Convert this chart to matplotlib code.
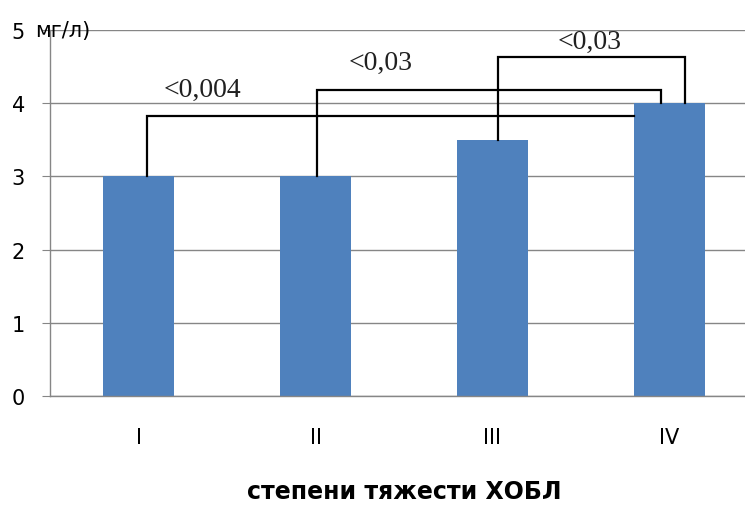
import matplotlib
matplotlib.use("Agg")
import matplotlib.pyplot as plt

# data
categories = ["I", "II", "III", "IV"]
values = [3.0, 3.0, 3.5, 4.0]
y_ticks = [0, 1, 2, 3, 4, 5]

# significance brackets: (x points, y points) in data units, label and its place
bracket_x = [[0.05, 0.05, 2.8],
             [1.01, 1.01, 2.95, 2.95],
             [2.03, 2.03, 3.09, 3.09]]
bracket_y = [[3.0, 3.83, 3.83],
             [3.0, 4.18, 4.18, 4.0],
             [3.5, 4.63, 4.63, 4.0]]
p_labels = ["<0,004", "<0,03", "<0,03"]
p_label_x = [0.36, 1.37, 2.55]
p_label_y = [4.19, 4.56, 4.84]

plt.rcParams["font.family"] = ["DejaVu Sans"]

W, H = 745, 506
fig = plt.figure(figsize=(W / 100, H / 100), dpi=100)
ax = fig.add_axes([50 / W, (H - 397) / H, 708 / W, 366 / H])

xs = list(range(len(categories)))
ax.bar(xs, values, width=0.4, color="#4F81BD", zorder=2)

ax.set_xlim(-0.5, 3.5)
ax.set_ylim(0, 5)
ax.set_yticks(y_ticks)
ax.set_xticks(xs)
ax.set_xticklabels(categories, fontsize=15)
ax.yaxis.grid(True, color="#868686", lw=1.0, zorder=0)
ax.set_axisbelow(True)

for s in ["top", "right"]:
    ax.spines[s].set_visible(False)
for s in ["left", "bottom"]:
    ax.spines[s].set_color("#868686")
    ax.spines[s].set_linewidth(1.0)

ax.tick_params(axis="y", length=6, color="#868686", pad=12, labelsize=15)
ax.tick_params(axis="x", length=0, pad=22)

for bx, by in zip(bracket_x, bracket_y):
    ax.plot(bx, by, color="black", lw=1.6, zorder=3, solid_joinstyle="miter")

for t, tx, ty in zip(p_labels, p_label_x, p_label_y):
    ax.text(tx, ty, t, ha="center", va="center", fontsize=20,
            family="Liberation Serif", color="#202020")

ax.set_xlabel("степени тяжести ХОБЛ", fontsize=17, fontweight="bold")
ax.xaxis.set_label_coords(0.5, -(492 - 397) / 366)
ax.xaxis.label.set_va("center")

fig.text(35 / W, 1 - 31 / H, "мг/л)", ha="left", va="center", fontsize=15)

fig.savefig("out.png", dpi=100)
